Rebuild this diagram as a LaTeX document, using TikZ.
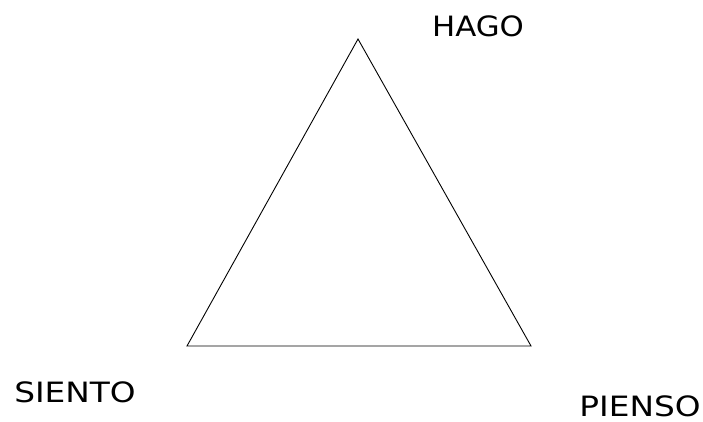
\documentclass[tikz,border=0pt]{standalone}
\usepackage{fontspec}
\setmainfont{DejaVu Sans}
\begin{document}
\begin{tikzpicture}[x=1pt,y=-1pt,
  lbl/.style={inner sep=0pt, font=\fontsize{28}{32}\selectfont}]
\useasboundingbox[fill=white] (0,0) rectangle (703,422);
\coordinate (top) at (358,39);
\coordinate (bl) at (187,346);
\coordinate (br) at (531,346);
\draw[line width=0.9pt, line join=miter] (top) -- (bl) -- (br) -- cycle;
\node[lbl] (hago) at (478,26) {\scalebox{1.1}[1]{HAGO}};
\node[lbl] (siento) at (75,392) {\scalebox{1.17}[1]{SIENTO}};
\node[lbl] (pienso) at (640,406) {\scalebox{1.17}[1]{PIENSO}};
\end{tikzpicture}
\end{document}
